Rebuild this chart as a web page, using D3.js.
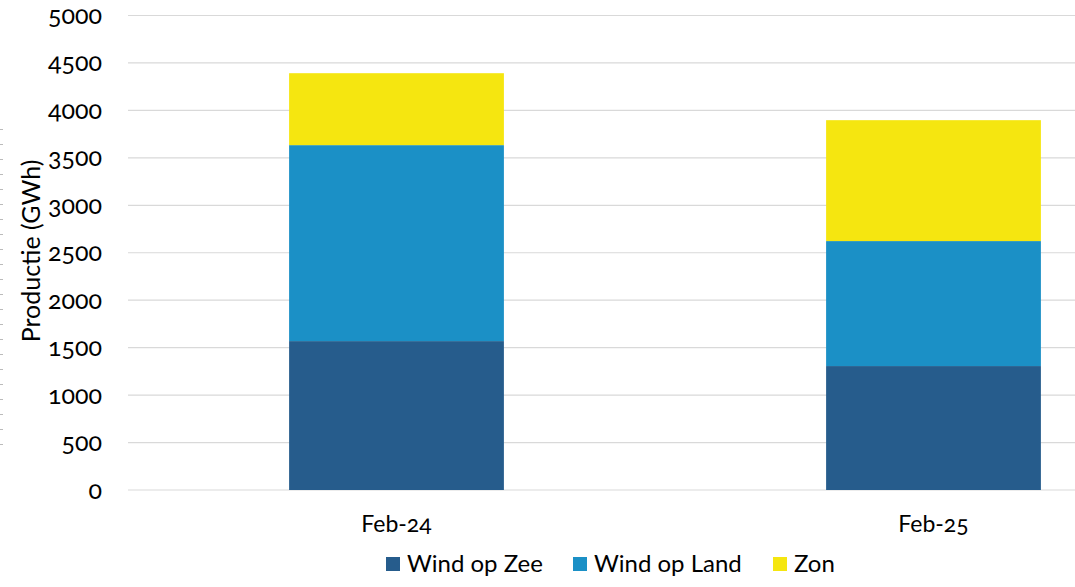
<!DOCTYPE html>
<html><head><meta charset="utf-8">
<script src="https://cdn.jsdelivr.net/npm/d3@7"></script>
<style>
body{margin:0;background:#fff;}
svg text{font-family:Lato,"Open Sans",sans-serif;font-variant-numeric:oldstyle-nums;fill:#000;}
</style></head><body>
<svg id="c" width="1075" height="587"></svg>
<script>
const categories = ["Feb-24", "Feb-25"];
const seriesNames = ["Wind op Zee", "Wind op Land", "Zon"];
const windZee = [1569, 1306];
const windLand = [2065, 1317];
const zon = [758, 1274];
const yTicks = [0, 500, 1000, 1500, 2000, 2500, 3000, 3500, 4000, 4500, 5000];
const colors = ["#265c8c", "#1b90c6", "#f5e610"];

const svg = d3.select("#c");
const x0 = 128, plotRight = 1202, yTop = 15.5, yBottom = 490;

const x = d3.scaleBand().domain(categories).range([x0, plotRight]).paddingInner(0.6).paddingOuter(0.3);
const y = d3.scaleLinear().domain([0, 5000]).range([yBottom, yTop]);

// gridlines
svg.append("g").selectAll("line").data(yTicks).join("line")
  .attr("x1", x0).attr("x2", plotRight)
  .attr("y1", d => y(d)).attr("y2", d => y(d))
  .attr("stroke", "#d9d9d9").attr("stroke-width", 1.2);

// y axis labels
const yAxis = d3.axisLeft(y).tickValues(yTicks).tickSize(0).tickPadding(0).tickFormat(d3.format("d"));
const ga = svg.append("g").attr("transform", `translate(102,0)`).call(yAxis);
ga.select(".domain").remove();
ga.selectAll("text").attr("font-size", 25).attr("font-family", "Lato,sans-serif").attr("dy", "0.32em");

// stacked data
const table = categories.map((c, i) => ({cat: c, "Wind op Zee": windZee[i], "Wind op Land": windLand[i], "Zon": zon[i]}));
const stack = d3.stack().keys(seriesNames)(table);

svg.append("g").selectAll("g").data(stack).join("g")
  .attr("fill", (d, i) => colors[i])
  .selectAll("rect").data(d => d).join("rect")
  .attr("x", d => x(d.data.cat))
  .attr("width", x.bandwidth())
  .attr("y", d => y(d[1]))
  .attr("height", d => y(d[0]) - y(d[1]));

// x axis labels
const xAxis = d3.axisBottom(x).tickSize(0).tickPadding(0);
const gx = svg.append("g").attr("transform", `translate(0,${yBottom})`).call(xAxis);
gx.select(".domain").remove();
gx.selectAll("text").attr("font-size", 23).attr("font-family", "Lato,sans-serif").attr("y", 42).attr("dy", 0);

// y title
svg.append("text").attr("transform", "translate(40,251) rotate(-90)")
  .attr("text-anchor", "middle").attr("font-size", 25).text("Productie (GWh)");

// left edge dashes (cropped artifact)
svg.append("line").attr("x1", 1.5).attr("x2", 1.5).attr("y1", 129).attr("y2", 445)
  .attr("stroke", "#bbb").attr("stroke-width", 3).attr("stroke-dasharray", "1,14");

// legend
const legendX = [386, 573, 773];
const lg = svg.append("g").selectAll("g").data(seriesNames).join("g")
  .attr("transform", (d, i) => `translate(${legendX[i]},557)`);
lg.append("rect").attr("width", 14).attr("height", 14).attr("fill", (d, i) => colors[i]);
lg.append("text").attr("x", 21).attr("y", 15).attr("font-size", 24).text(d => d);
</script>
</body></html>
